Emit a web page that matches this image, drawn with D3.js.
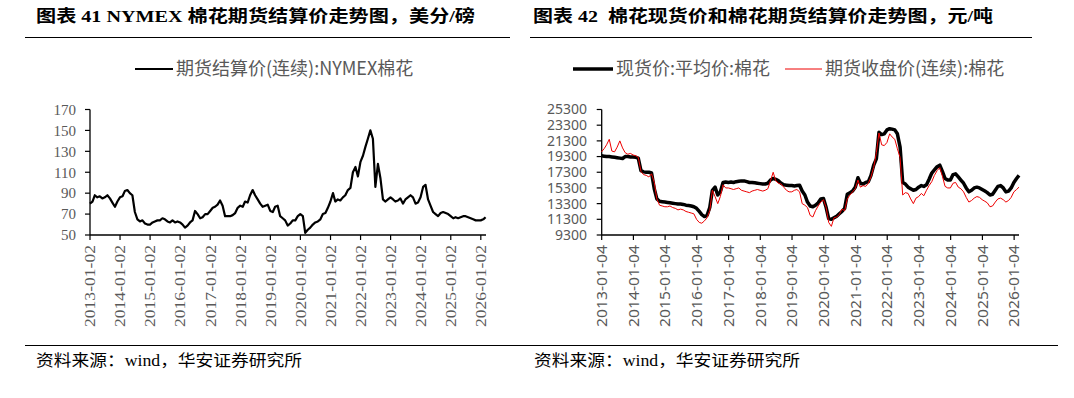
<!DOCTYPE html>
<html>
<head>
<meta charset="utf-8">
<script src="https://cdn.jsdelivr.net/npm/d3@7"></script>
<style>
body { margin: 0; background: #fff; }
</style>
</head>
<body>
<div id="chart"></div>
<script>
// monthly values, Jan 2013 - Mar 2026
var nymex = [
  80, 82, 88, 86, 87, 85, 86, 88, 85, 81, 77, 82,
  86, 87, 92, 93, 90, 88, 72, 65, 63, 64, 61, 60,
  60, 62, 63, 64, 64, 66, 65, 63, 62, 64, 62, 63,
  62, 60, 57, 59, 62, 64, 73, 70, 66, 67, 70, 70,
  73, 76, 77, 79, 83, 78, 68, 68, 68, 69, 71, 76,
  78, 77, 82, 81, 88, 93, 88, 84, 80, 77, 78, 79,
  73, 72, 77, 78, 68, 66, 64, 59, 61, 64, 64, 68,
  70, 68, 52, 55, 57, 60, 62, 63, 65, 70, 71, 76,
  82, 90, 82, 84, 83, 86, 88, 93, 95, 110, 115, 106,
  120, 126, 134, 142, 150, 142, 96, 118, 104, 84, 82, 84,
  86, 84, 82, 83, 85, 80, 84, 86, 88, 86, 80, 81,
  86, 96, 98, 84, 78, 72, 70, 68, 71, 72, 71, 70,
  68, 66, 67, 66, 67, 68, 68, 67, 66, 65, 64, 64,
  64, 65, 67
]
var spot = [
  19400, 19350, 19300, 19300, 19250, 19200, 19150, 19100, 19050, 19300, 19300, 19250,
  19250, 19200, 19100, 17500, 17350, 17300, 17300, 17200, 15200, 13900, 13600, 13550,
  13500, 13450, 13400, 13350, 13300, 13250, 13250, 13200, 13100, 13050, 13000, 12900,
  12700, 12300, 11900, 11650, 11800, 12800, 15000, 15400, 14400, 14800, 16000, 16050,
  16000, 16050, 16000, 16100, 16150, 16200, 16200, 16100, 16000, 16000, 15950, 15900,
  15850, 15800, 15800, 15900, 16300, 16500, 16400, 16200, 15900, 15700, 15650, 15600,
  15600, 15550, 15600, 15650, 14900, 14400, 13500, 13000, 12900, 13100, 13400, 13900,
  13950, 12800, 11400, 11300, 11500, 11700, 12000, 12300, 12700, 14500, 14700, 14900,
  15400, 16600, 15900, 15800, 16000, 16100, 16900, 18200, 19000, 22400, 22100, 22200,
  22700, 22850, 22800, 22700, 22200, 20500, 16000, 15800, 15400, 15200, 15000, 15100,
  15400, 15600, 15500, 15700, 16400, 17200, 17600, 18000, 18200, 17400, 16500, 16300,
  16300, 17000, 17100, 16700, 16300, 15900, 15300, 14800, 15000, 15300, 15400, 15300,
  15100, 14900, 14700, 14400, 14500, 15000, 15500, 15600, 15300, 14800, 14900, 15300,
  16000, 16500, 16900
]
var futures = [
  19900, 20300, 20800, 21500, 20000, 19900, 20500, 21300, 20400, 19800, 19600, 19700,
  19500, 19400, 19200, 17400, 17000, 16900, 16700, 17100, 16000, 13900, 13100, 13000,
  12900, 12900, 13000, 12800, 12700, 12500, 12600, 12500, 12300, 12200, 12100, 12000,
  11300, 10900, 10800, 11100, 11500, 12400, 15000, 14200, 13300, 14200, 15700, 15300,
  15300, 15200, 15100, 15200, 15300, 15000, 14900, 14800, 14700, 14900, 15000, 15100,
  15000, 14900, 15000, 15200, 16200, 17300, 16200, 15900, 15800, 15400, 15000, 14800,
  14800, 15000, 15100, 14800, 13300, 13100, 12800, 11800, 11600, 12400, 13000, 13500,
  13800, 12800, 10900, 10400, 11500, 11600, 11900, 12600, 12400, 13900, 14400, 14800,
  15200, 16300, 15400, 15600, 15500, 15900, 16700, 17900, 19800, 22300, 20800, 20700,
  21100, 22200, 21800, 21500, 20300, 19200, 14400, 14700, 14600, 13900, 13300, 14000,
  14200, 14600, 14300, 15000, 15600, 16100, 16900, 17500, 17900, 16800, 15500, 15300,
  15300, 15900, 16000, 15400, 15200, 14800, 14100, 13500, 13700, 14000, 14200, 14100,
  13800, 13600, 13400, 12900, 13000, 13500, 13900, 14000, 13800, 13500, 13700, 14100,
  14800, 15100, 15400
]
var yTicksL = [50, 70, 90, 110, 130, 150, 170]
var yTicksR = [9300, 11300, 13300, 15300, 17300, 19300, 21300, 23300, 25300]
var xTicksL = ["2013-01-02","2014-01-02","2015-01-02","2016-01-02","2017-01-02","2018-01-02","2019-01-02",
  "2020-01-02","2021-01-02","2022-01-02","2023-01-02","2024-01-02","2025-01-02","2026-01-02"]
var xTicksR = ["2013-01-04","2014-01-04","2015-01-04","2016-01-04","2017-01-04","2018-01-04","2019-01-04",
  "2020-01-04","2021-01-04","2022-01-04","2023-01-04","2024-01-04","2025-01-04","2026-01-04"]

var parse = d3.timeParse("%Y-%m-%d")
var months = nymex.map(function(d, i){ return new Date(2013, i, 1) })

var svg = d3.select("#chart").append("svg")
  .attr("width", 1074).attr("height", 398)
  .style("font-family", "'Noto Sans CJK SC', sans-serif")

svg.append("rect").attr("width", 1074).attr("height", 398).attr("fill", "#fff")

// titles and rules
svg.append("text").attr("x", 36).attr("y", 22)
  .attr("textLength", 439).attr("lengthAdjust", "spacingAndGlyphs")
  .style("font-family", "'Liberation Serif', 'Noto Sans CJK SC', serif")
  .style("font-weight", "bold").style("font-size", "17px")
  .text("图表 41 NYMEX 棉花期货结算价走势图，美分/磅")
svg.append("text").attr("x", 533).attr("y", 22)
  .attr("textLength", 460).attr("lengthAdjust", "spacingAndGlyphs")
  .style("font-family", "'Liberation Serif', 'Noto Sans CJK SC', serif")
  .style("font-weight", "bold").style("font-size", "17px")
  .style("white-space", "pre")
  .text("图表 42  棉花现货价和棉花期货结算价走势图，元/吨")
svg.append("line").attr("x1", 25).attr("x2", 510).attr("y1", 37.5).attr("y2", 37.5)
  .attr("stroke", "#000").attr("stroke-width", 1)
svg.append("line").attr("x1", 530).attr("x2", 1032).attr("y1", 37.5).attr("y2", 37.5)
  .attr("stroke", "#000").attr("stroke-width", 1)
svg.append("line").attr("x1", 25).attr("x2", 1058).attr("y1", 345.5).attr("y2", 345.5)
  .attr("stroke", "#000").attr("stroke-width", 1)
svg.selectAll("text.src").data([36, 534]).enter().append("text")
  .attr("class", "src").attr("x", function(d){ return d }).attr("y", 366)
  .attr("textLength", 266).attr("lengthAdjust", "spacingAndGlyphs")
  .style("font-family", "'Liberation Serif', 'Noto Sans CJK SC', serif")
  .style("font-size", "16px")
  .text("资料来源：wind，华安证券研究所")

function drawAxes(x, y, yTicks, xTicks, tickFont, yLabelX, ySize) {
  var g = svg.append("g")
  var x0 = x.range()[0], x1 = x.range()[1]
  var y0 = y.range()[0], y1 = y.range()[1]
  g.append("line").attr("x1", x0).attr("x2", x0).attr("y1", y1).attr("y2", y0)
    .attr("stroke", "#000").attr("stroke-width", 1.3)
  g.append("line").attr("x1", x0).attr("x2", x1).attr("y1", y0).attr("y2", y0)
    .attr("stroke", "#000").attr("stroke-width", 1.3)
  g.selectAll("line.yt").data(yTicks).enter().append("line").attr("class", "yt")
    .attr("x1", x0 - 5).attr("x2", x0)
    .attr("y1", function(d){ return y(d) }).attr("y2", function(d){ return y(d) })
    .attr("stroke", "#000").attr("stroke-width", 1.2)
  g.selectAll("text.yl").data(yTicks).enter().append("text").attr("class", "yl")
    .attr("x", yLabelX).attr("y", function(d){ return y(d) }).attr("dy", "0.35em")
    .attr("text-anchor", "end").attr("fill", "#595959")
    .style("font-family", tickFont).style("font-size", ySize)
    .text(function(d){ return d })
  g.selectAll("line.xt").data(xTicks).enter().append("line").attr("class", "xt")
    .attr("x1", function(d){ return x(parse(d)) }).attr("x2", function(d){ return x(parse(d)) })
    .attr("y1", y0).attr("y2", y0 + 5)
    .attr("stroke", "#000").attr("stroke-width", 1.2)
  g.selectAll("text.xl").data(xTicks).enter().append("text").attr("class", "xl")
    .attr("transform", function(d){ return "translate(" + x(parse(d)) + "," + 245 + ") rotate(-90)" })
    .attr("dy", "0.35em").attr("text-anchor", "end").attr("fill", "#595959")
    .attr("textLength", 82).attr("lengthAdjust", "spacingAndGlyphs")
    .style("font-family", tickFont).style("font-size", "15px")
    .text(function(d){ return d })
}

// left chart
var xL = d3.scaleTime().domain([parse("2013-01-02"), parse("2026-03-06")]).range([90, 486])
var yL = d3.scaleLinear().domain([50, 170]).range([235, 109.5])
drawAxes(xL, yL, yTicksL, xTicksL, "'Liberation Serif', serif", 76, "15px")
svg.append("path").datum(nymex)
  .attr("d", d3.line().x(function(d, i){ return xL(months[i]) }).y(function(d){ return yL(d) }))
  .attr("fill", "none").attr("stroke", "#000").attr("stroke-width", 2.2).attr("stroke-linejoin", "round")

// right chart
var xR = d3.scaleTime().domain([parse("2013-01-04"), parse("2026-03-01")]).range([601.7, 1019])
var yR = d3.scaleLinear().domain([9300, 25300]).range([235, 109.5])
drawAxes(xR, yR, yTicksR, xTicksR, "'Noto Sans', sans-serif", 587, "14px")
svg.append("path").datum(spot)
  .attr("d", d3.line().x(function(d, i){ return xR(months[i]) }).y(function(d){ return yR(d) }))
  .attr("fill", "none").attr("stroke", "#000").attr("stroke-width", 3.5).attr("stroke-linejoin", "round")
svg.append("path").datum(futures)
  .attr("d", d3.line().x(function(d, i){ return xR(months[i]) }).y(function(d){ return yR(d) }))
  .attr("fill", "none").attr("stroke", "#ee0000").attr("stroke-width", 1)

// legends
var legend = [
  {x: 135, w: 38, color: "#000", sw: 2, label: "期货结算价(连续):NYMEX棉花"},
  {x: 573, w: 40, color: "#000", sw: 3.5, label: "现货价:平均价:棉花"},
  {x: 785, w: 37, color: "#ee0000", sw: 1, label: "期货收盘价(连续):棉花"}
]
var lg = svg.selectAll("g.lg").data(legend).enter().append("g").attr("class", "lg")
lg.append("line").attr("x1", function(d){ return d.x }).attr("x2", function(d){ return d.x + d.w })
  .attr("y1", 69).attr("y2", 69)
  .attr("stroke", function(d){ return d.color }).attr("stroke-width", function(d){ return d.sw })
lg.append("text").attr("x", function(d){ return d.x + d.w + 3 }).attr("y", 69).attr("dy", "0.36em")
  .attr("fill", "#595959").style("font-size", "18px")
  .text(function(d){ return d.label })
</script>
</body>
</html>
